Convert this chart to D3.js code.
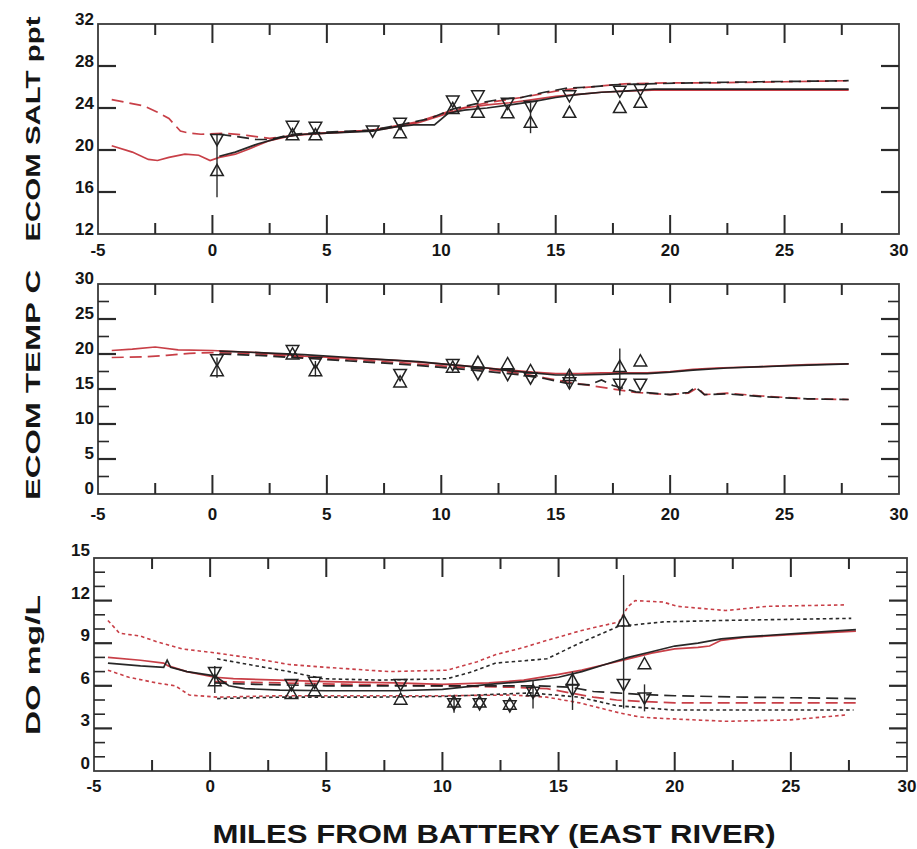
<!DOCTYPE html>
<html><head><meta charset="utf-8">
<script src="https://cdn.jsdelivr.net/npm/d3@7"></script>
<style>
body{margin:0;background:#fff;}
svg{display:block;}
text{font-family:"Liberation Sans",Arial,sans-serif;font-weight:bold;fill:#151515;}
</style>
</head><body>
<svg id="chart" width="917" height="849"></svg>
<script>
// ---------- DATA ----------
const xTickLabels = [-5, 0, 5, 10, 15, 20, 25, 30];
const stations = [0.2, 3.5, 4.5, 7.0, 8.2, 10.5, 11.6, 12.9, 13.9, 15.6, 17.8, 18.7];

// Salinity (ppt)
const saltTicks = [12, 16, 20, 24, 28, 32];
const saltRedSolid = [[-4.4,20.4],[-3.5,19.8],[-2.8,19.1],[-2.4,19.0],[-1.9,19.3],[-1.2,19.6],[-0.6,19.5],[-0.1,19.0],[0.3,19.3],[1.0,19.6],[1.6,20.1],[2.5,20.9],[3.5,21.4],[5,21.6],[6.5,21.8],[7.5,22.0],[9,22.6],[10,23.3],[11,24.0],[12,24.3],[13,24.5],[14,24.8],[15,25.1],[16,25.3],[17,25.5],[18,25.6],[19.2,25.7],[22,25.7],[25,25.7],[27.8,25.7]];
const saltRedDashed = [[-4.4,24.8],[-3,24.2],[-2.4,23.6],[-1.9,23.0],[-1.4,21.8],[-1,21.6],[-0.5,21.5],[0.5,21.6],[1.5,21.4],[2.5,21.1],[4,21.5],[7,21.9],[9,22.7],[10.5,23.8],[12,24.5],[13.5,25.0],[15,25.6],[16,25.9],[17,26.1],[18,26.3],[20,26.4],[22,26.4],[25,26.5],[27.8,26.6]];
const saltBlackSolid = [[0.3,19.4],[1,19.8],[2,20.6],[3,21.2],[4,21.5],[5,21.6],[7,21.8],[8,22.2],[8.8,22.4],[9.7,22.4],[10.3,23.5],[11,23.8],[12,24.0],[13,24.3],[14,24.6],[15,25.0],[16,25.3],[17,25.5],[18,25.6],[19.3,25.8],[22,25.8],[25,25.8],[27.8,25.8]];
const saltBlackDashed = [[0.3,21.5],[1,21.3],[1.9,21.0],[2.5,21.0],[3.5,21.5],[5,21.7],[7,21.9],[8.2,22.4],[9.5,23.0],[10.5,23.9],[11.5,24.4],[12.5,24.8],[13.5,25.0],[14.5,25.5],[15.5,25.9],[16.5,26.0],[17.5,26.2],[19,26.3],[21,26.4],[24,26.5],[27.8,26.6]];
const saltDown = [20.95, 22.2, 22.1, 21.75, 22.5, 24.6, 25.1, 24.4, 24.1, 25.1, 25.55, 25.7];
const saltUp   = [18.1, 21.5, 21.5, null, 21.7, 24.0, 23.65, 23.6, 22.7, 23.65, 24.1, 24.6];
const saltErr  = [[0.2,15.5,21.5],[13.9,21.6,24.5]];

// Temperature (C)
const tempTicks = [0, 5, 10, 15, 20, 25, 30];
const tempRedSolid = [[-4.4,20.5],[-3.5,20.7],[-2.5,21.0],[-1.5,20.6],[0,20.5],[2,20.2],[4,19.7],[6,19.4],[8,19.1],[10,18.6],[11,18.3],[12,18.0],[13,17.7],[14,17.4],[15,17.2],[16,17.2],[17,17.3],[18,17.3],[19,17.3],[20,17.5],[21,17.8],[22,18.0],[24,18.2],[26,18.5],[27.8,18.6]];
const tempRedDashed = [[-4.4,19.5],[-3,19.6],[-2,19.8],[-1,20.1],[0,20.2],[2,20.0],[4,19.5],[6,19.2],[8,18.8],[10,18.3],[12,17.8],[13.5,17.2],[14.5,16.6],[15.5,16.0],[16.5,15.5],[17.5,15.0],[18.5,14.5],[20,14.2],[20.8,14.4],[21.2,15.2],[21.5,14.2],[22.5,14.4],[24,14.0],[26,13.6],[27.8,13.5]];
const tempBlackSolid = [[0.3,20.4],[2,20.2],[4,19.9],[6,19.5],[7.5,19.2],[9,18.9],[10,18.6],[11,18.3],[12,18.0],[13,17.6],[14,17.3],[15,17.0],[16,17.0],[17,17.1],[18,17.2],[19,17.2],[20,17.4],[21,17.7],[22.5,18.0],[25,18.3],[27.8,18.6]];
const tempBlackDashed = [[0.3,20.0],[2,19.8],[4,19.4],[6,19.0],[8,18.6],[10,18.1],[12,17.5],[13.5,17.0],[14.5,16.5],[15.5,15.8],[16.5,15.6],[17,16.3],[17.5,15.5],[18.5,14.6],[20,14.2],[20.8,14.5],[21.1,15.3],[21.5,14.2],[22.5,14.3],[24,13.9],[26,13.6],[27.8,13.5]];
const tempDown = [19.1, 20.4, 18.7, null, 17.0, 18.4, 17.1, 17.0, 16.5, 15.8, 15.6, 15.6];
const tempUp   = [17.7, 20.1, 17.7, null, 16.1, 18.2, 18.9, 18.7, 17.7, 17.0, 18.3, 19.1];
const tempErr  = [[0.2,16.6,19.5],[4.5,16.8,19.0],[17.8,14.1,20.8],[15.6,15.0,17.8]];

// Dissolved oxygen (mg/L)
const doTicks = [0, 3, 6, 9, 12, 15];
const doRedSolid = [[-4.4,8.0],[-3,7.8],[-2,7.6],[-1.8,7.4],[-1,7.0],[0.2,6.6],[1,6.5],[3,6.4],[5,6.3],[8,6.2],[10,6.1],[12,6.2],[13.5,6.4],[15,6.8],[16,7.1],[17,7.5],[18,7.9],[19,8.3],[20,8.6],[21,8.7],[21.5,8.8],[22,9.2],[23,9.4],[25,9.6],[27.8,9.85]];
const doBlackSolid = [[-4.4,7.6],[-3,7.4],[-2,7.3],[-1.85,7.8],[-1.7,7.3],[-1,7.0],[0.2,6.7],[0.8,6.0],[1.5,5.8],[3,5.7],[5,5.65],[8,5.65],[10,5.75],[12,6.1],[13.5,6.3],[15,6.6],[16,7.0],[17,7.5],[18,8.0],[19,8.4],[20,8.8],[21,9.0],[22,9.3],[23,9.45],[25,9.65],[27.8,9.95]];
const doBlackDashed = [[0.2,6.2],[2,6.1],[5,6.0],[8,6.0],[10,6.0],[12,6.0],[14,6.0],[15.5,5.9],[16.5,5.6],[17.5,5.5],[18.5,5.4],[20,5.3],[23,5.2],[27.8,5.1]];
const doRedDashed = [[0.2,6.3],[3,6.2],[6,6.1],[10,6.0],[13,5.9],[14.5,5.8],[15.5,5.5],[16.5,5.2],[17.5,5.0],[18.5,4.9],[20,4.8],[23,4.8],[27.8,4.8]];
const doRedDotUpper = [[-4.4,10.6],[-3.9,9.7],[-3,9.5],[-2.3,9.1],[-1.2,8.6],[0.3,8.3],[2,7.9],[3.4,7.5],[5,7.3],[7.7,7.0],[10.2,7.1],[11.5,7.7],[12.3,8.2],[13.5,8.7],[14.5,9.2],[16,9.9],[17.6,10.5],[18,11.6],[18.3,12.0],[19.5,11.9],[20.1,11.6],[22.2,11.3],[24,11.6],[27.4,11.7]];
const doBlackDotUpper = [[0.3,7.9],[2,7.4],[3.4,7.0],[4.85,6.5],[7.3,6.4],[10.2,6.5],[11.3,7.0],[12.3,7.6],[14.5,7.9],[15.9,9.0],[17.6,10.2],[18.3,10.3],[19.5,10.5],[22,10.6],[27.6,10.75]];
const doRedDotLower = [[-4.4,7.1],[-3.5,6.6],[-2.3,6.2],[-1.5,6.0],[-0.9,5.35],[0.3,5.2],[3,5.3],[7,5.3],[10,5.3],[13,5.35],[14.5,5.2],[15.9,4.8],[17.6,4.1],[18.5,3.8],[19.5,3.7],[22.2,3.5],[25,3.6],[27.4,3.95]];
const doBlackDotLower = [[0.3,5.1],[3,5.2],[7,5.2],[10,5.25],[13.8,5.5],[15.9,5.2],[17.5,4.6],[19.9,4.3],[24,4.3],[27.7,4.3]];
const doDown = [6.9, 6.05, 6.2, null, 6.05, 4.7, 4.7, 4.55, 5.5, 5.7, 6.05, 5.1];
const doUp   = [6.4, 5.5, 5.7, null, 5.1, 4.9, 4.9, 4.75, 5.7, 6.45, 10.6, 7.6];
const doErr  = [[0.2,5.5,7.4],[10.5,4.1,5.2],[13.9,4.4,6.4],[15.6,4.3,7.0],[17.8,4.4,13.8],[18.7,4.2,6.1]];

const yTitles = ["ECOM SALT ppt", "ECOM TEMP C", "DO mg/L"];
const xTitle = "MILES FROM BATTERY (EAST RIVER)";

// ---------- STYLE / LAYOUT ----------
const RED = "#c22a33", BLK = "#1c1c1c";
const DASH = "12,6", DOT = "3.5,3";
const svg = d3.select("#chart");

const panels = [
  {box:{l:98,r:899,t:24,b:234}, dom:[12,32], labels:saltTicks, minorStep:null, majorStep:4,
   title:yTitles[0], titleY:129, titleLen:225, labOff:-3.5, xLabY:252,
   lines:[[saltRedSolid,RED,null],[saltRedDashed,RED,DASH],[saltBlackSolid,BLK,null],[saltBlackDashed,BLK,DASH]],
   down:saltDown, up:saltUp, err:saltErr},
  {box:{l:98,r:899,t:284,b:494}, dom:[0,30], labels:tempTicks, minorStep:2.5, majorStep:5,
   title:yTitles[1], titleY:385, titleLen:230, labOff:-4, xLabY:516,
   lines:[[tempRedSolid,RED,null],[tempRedDashed,RED,DASH],[tempBlackSolid,BLK,null],[tempBlackDashed,BLK,DASH]],
   down:tempDown, up:tempUp, err:tempErr},
  {box:{l:94,r:907,t:558,b:771}, dom:[0,15], labels:doTicks, minorStep:1, majorStep:3,
   title:yTitles[2], titleY:665, titleLen:140, labOff:-6.5, xLabY:788,
   lines:[[doRedDotUpper,RED,DOT],[doRedDotLower,RED,DOT],[doBlackDotUpper,BLK,DOT],[doBlackDotLower,BLK,DOT],
          [doRedSolid,RED,null],[doRedDashed,RED,DASH],[doBlackSolid,BLK,null],[doBlackDashed,BLK,DASH]],
   down:doDown, up:doUp, err:doErr}
];

panels.forEach(p => {
  const b = p.box;
  const x = d3.scaleLinear().domain([-5,30]).range([b.l,b.r]);
  const y = d3.scaleLinear().domain(p.dom).range([b.b,b.t]);
  const g = svg.append("g");

  // data lines
  const line = d3.line().x(d=>x(d[0])).y(d=>y(d[1]));
  p.lines.forEach(([data,col,dash]) => {
    g.append("path").attr("d", line(data)).attr("fill","none")
      .attr("stroke", col).attr("stroke-width", dash===DOT?1.6:1.7)
      .attr("stroke-dasharray", dash)
      .attr("stroke-opacity", col===RED?0.9:0.95);
  });

  // error bars
  p.err.forEach(([xv,lo,hi]) => {
    g.append("line").attr("x1",x(xv)).attr("x2",x(xv)).attr("y1",y(lo)).attr("y2",y(hi))
      .attr("stroke","#2a2a2a").attr("stroke-width",1.4);
  });

  // markers
  const w = 6.3, h = 5.6;
  stations.forEach((s,i) => {
    const cx = x(s);
    if (p.down[i] != null) {
      const cy = y(p.down[i]);
      g.append("path").attr("d",`M${cx-w},${cy-h}L${cx+w},${cy-h}L${cx},${cy+h}Z`)
        .attr("fill","none").attr("stroke","#222").attr("stroke-width",1.5);
    }
    if (p.up[i] != null) {
      const cy = y(p.up[i]);
      g.append("path").attr("d",`M${cx-w},${cy+h}L${cx+w},${cy+h}L${cx},${cy-h}Z`)
        .attr("fill","none").attr("stroke","#222").attr("stroke-width",1.5);
    }
  });

  // frame
  g.append("rect").attr("x",b.l).attr("y",b.t).attr("width",b.r-b.l).attr("height",b.b-b.t)
    .attr("fill","none").attr("stroke","#3a3a3a").attr("stroke-width",1.8);

  // x ticks
  d3.range(-2.5, 30, 2.5).forEach(v => {
    const major = Math.abs(v % 5) < 1e-9;
    const len = major ? 19 : 11;
    const xv = x(v);
    g.append("line").attr("x1",xv).attr("x2",xv).attr("y1",b.t).attr("y2",b.t+len)
      .attr("stroke","#2a2a2a").attr("stroke-width",2);
    g.append("line").attr("x1",xv).attr("x2",xv).attr("y1",b.b).attr("y2",b.b-len)
      .attr("stroke","#2a2a2a").attr("stroke-width",2);
  });

  // y ticks
  const step = p.minorStep || p.majorStep;
  const yt = d3.range(p.dom[0]+step, p.dom[1]-1e-9, step);
  yt.forEach(v => {
    const major = Math.abs(((v - p.dom[0]) / p.majorStep) - Math.round((v - p.dom[0]) / p.majorStep)) < 1e-9;
    const len = major ? 18 : 11;
    const yv = y(v);
    g.append("line").attr("x1",b.l).attr("x2",b.l+len).attr("y1",yv).attr("y2",yv)
      .attr("stroke","#2a2a2a").attr("stroke-width",major?2.2:1.6);
    g.append("line").attr("x1",b.r).attr("x2",b.r-len).attr("y1",yv).attr("y2",yv)
      .attr("stroke","#2a2a2a").attr("stroke-width",major?2.2:1.6);
  });

  // y tick labels
  p.labels.forEach(v => {
    g.append("text").attr("x", b.l-4).attr("y", y(v)+p.labOff)
      .attr("text-anchor","end").attr("dominant-baseline","middle")
      .attr("font-size",17).text(v);
  });

  // x tick labels
  xTickLabels.forEach(v => {
    g.append("text").attr("x", x(v)).attr("y", p.xLabY)
      .attr("text-anchor","middle").attr("dominant-baseline","middle")
      .attr("font-size",17).text(v);
  });

  // y title
  g.append("text").attr("transform",`translate(40,${p.titleY}) rotate(-90)`)
    .attr("text-anchor","middle").attr("font-size",21)
    .attr("textLength",p.titleLen).attr("lengthAdjust","spacingAndGlyphs")
    .text(p.title);
});

svg.append("text").attr("x",494).attr("y",843).attr("text-anchor","middle")
  .attr("font-size",26).attr("textLength",563).attr("lengthAdjust","spacingAndGlyphs")
  .text(xTitle);
</script>
</body></html>
